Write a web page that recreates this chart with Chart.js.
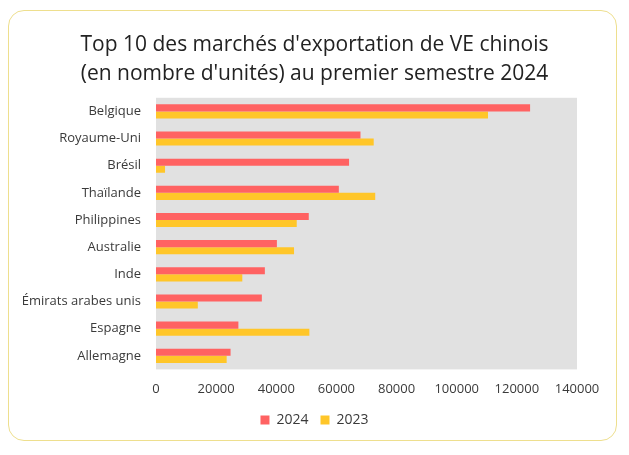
<!DOCTYPE html>
<html>
<head>
<meta charset="utf-8">
<script src="https://cdn.jsdelivr.net/npm/chart.js@4"></script>
<style>
  body { margin: 0; background: #fff; }
  #frame {
    position: absolute; left: 8px; top: 10px;
    width: 607px; height: 429px;
    border: 1.5px solid #eedf8e; border-radius: 16px;
  }
  #wrap { position: absolute; left: 0; top: 0; width: 629px; height: 455px; }
</style>
</head>
<body>
<div id="frame"></div>
<div id="wrap"><canvas id="graph" width="629" height="455"></canvas></div>
<script>
const countries = ['Belgique', 'Royaume-Uni', 'Brésil', 'Thaïlande', 'Philippines', 'Australie', 'Inde', 'Émirats arabes unis', 'Espagne', 'Allemagne'];
const units2024 = [124400, 68000, 64200, 60800, 50800, 40200, 36200, 35200, 27400, 24800];
const units2023 = [110400, 72400, 3000, 72900, 46800, 45900, 28700, 13900, 51000, 23500];
const xTicks = [0, 20000, 40000, 60000, 80000, 100000, 120000, 140000];

// grey plot background
const plotBg = {
    id: 'plotBg',
    beforeDraw(chart) {
        const { ctx, chartArea: a } = chart;
        ctx.save();
        ctx.fillStyle = '#e1e1e1';
        ctx.fillRect(a.left, a.top, a.right - a.left, a.bottom - a.top);
        ctx.restore();
    }
};

Chart.defaults.font.family = "'Open Sans', sans-serif";
Chart.defaults.color = '#3a3a3a';

new Chart(document.getElementById('graph').getContext('2d'), {
    type: 'bar',
    data: {
        labels: countries,
        datasets: [{
            label: '2024',
            data: units2024,
            backgroundColor: '#ff6262'
        },
        {
            label: '2023',
            data: units2023,
            backgroundColor: '#ffc629'
        }]
    },
    options: {
        indexAxis: 'y',
        responsive: false,
        animation: false,
        barPercentage: 1,
        categoryPercentage: 0.52,
        layout: { padding: { left: 0, right: 0, top: 0, bottom: 18 } },
        scales: {
            x: {
                min: 0,
                max: 140000,
                grid: { display: false },
                border: { display: false },
                afterBuildTicks: scale => { scale.ticks = xTicks.map(v => ({ value: v })); },
                ticks: {
                    padding: 4,
                    font: { size: 13 },
                    maxRotation: 0,
                    callback: v => String(v)
                }
            },
            y: {
                grid: { display: false },
                border: { display: false },
                afterFit: scale => { scale.width = 156; },
                ticks: { padding: 7, font: { size: 13 } }
            },
            // empty right axis, only keeps the plot off the right edge
            yRight: {
                type: 'category',
                position: 'right',
                grid: { display: false },
                border: { display: false },
                ticks: { display: false },
                afterFit: scale => { scale.width = 52; }
            }
        },
        plugins: {
            title: {
                display: true,
                text: ["Top 10 des marchés d'exportation de VE chinois", "(en nombre d'unités) au premier semestre 2024"],
                color: '#222',
                font: { size: 21, weight: 'normal', lineHeight: 1.4 },
                padding: { top: 30, bottom: 9 }
            },
            legend: {
                position: 'bottom',
                labels: {
                    boxWidth: 9,
                    boxHeight: 9,
                    padding: 12,
                    font: { size: 14 },
                    color: '#3a3a3a'
                }
            },
            tooltip: { enabled: false }
        }
    },
    plugins: [plotBg]
});
</script>
</body>
</html>
